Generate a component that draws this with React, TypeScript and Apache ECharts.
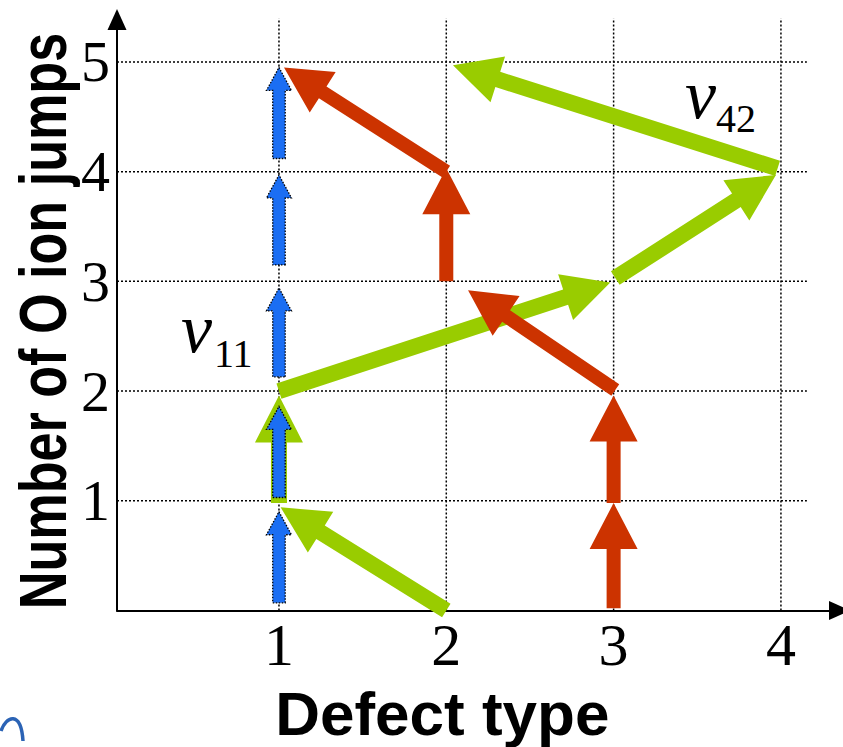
import React, { useEffect, useRef } from "react";
import * as echarts from "echarts";

// ---- data ----
const xTicks = [1, 2, 3, 4];
const yTicks = [1, 2, 3, 4, 5];
const xRange = [0.032, 4.35];
const yRange = [0, 5.387];
const gridLineTop = 5.43; // top end of vertical dotted lines
const gridLineRight = 4.155; // right end of horizontal dotted lines

// arrows: [x1, y1, x2, y2]
const blueArrows = [
  [1, 0.07, 1, 0.9],
  [1, 1.03, 1, 1.86],
  [1, 2.13, 1, 2.94],
  [1, 3.15, 1, 3.97],
  [1, 4.12, 1, 4.95],
];
const greenArrows = [
  [2, 0, 1.01, 0.94],
  [1, 0.98, 1, 1.96],
  [1, 2.0, 2.98, 2.99],
  [3.01, 3.03, 3.97, 3.97],
  [3.98, 4.03, 2.04, 4.97],
];
const redArrows = [
  [3, 0.02, 3, 0.98],
  [3, 0.98, 3, 1.96],
  [3.01, 2.01, 2.13, 2.92],
  [2, 3.0, 2, 4.03],
  [2, 4.0, 1.03, 4.95],
];

function arrowSeries(name: string, data: number[][], opts: any) {
  return {
    type: "custom",
    name,
    data,
    encode: { x: [0, 2], y: [1, 3] },
    silent: true,
    z: opts.z,
    renderItem: (params: any, api: any) => {
      const p1 = api.coord([api.value(0), api.value(1)]);
      const p2 = api.coord([api.value(2), api.value(3)]);
      const dx = p2[0] - p1[0];
      const dy = p2[1] - p1[1];
      const len = Math.hypot(dx, dy) || 1;
      const ux = dx / len, uy = dy / len;
      const nx = -uy, ny = ux;
      const L = opts.headLen, W = opts.headW / 2, S = opts.shaft / 2;
      const neck = [p2[0] - ux * L, p2[1] - uy * L];
      const pts = [
        [p1[0] + nx * S, p1[1] + ny * S],
        [neck[0] + nx * S, neck[1] + ny * S],
        [neck[0] + nx * W, neck[1] + ny * W],
        [p2[0], p2[1]],
        [neck[0] - nx * W, neck[1] - ny * W],
        [neck[0] - nx * S, neck[1] - ny * S],
        [p1[0] - nx * S, p1[1] - ny * S],
      ];
      return {
        type: "polygon",
        shape: { points: pts },
        style: opts.style,
      };
    },
  };
}

export default function App() {
  const ref = useRef<HTMLDivElement>(null);
  useEffect(() => {
    if (!ref.current) return;
    const chart = echarts.init(ref.current, null, { renderer: "svg" });

    const dotted = { color: "#000", width: 1.5, type: [2, 2] };
    const gridSeries: any[] = [];
    xTicks.forEach((v) => {
      gridSeries.push({
        type: "line",
        data: [
          [v, yRange[0]],
          [v, gridLineTop],
        ],
        symbol: "none",
        silent: true,
        lineStyle: dotted,
        z: 1,
      });
    });
    yTicks.forEach((v) => {
      gridSeries.push({
        type: "line",
        data: [
          [xRange[0], v],
          [gridLineRight, v],
        ],
        symbol: "none",
        silent: true,
        lineStyle: dotted,
        z: 1,
      });
    });

    chart.setOption({
      animation: false,
      backgroundColor: "#fff",
      grid: {
        left: 117,
        right: 3.5,
        top: 19.5,
        bottom: 136.5,
        containLabel: false,
        outerBoundsMode: "none",
      },
      xAxis: {
        type: "value",
        min: xRange[0],
        max: xRange[1],
        axisLine: {
          show: true,
          onZero: false,
          symbol: ["none", "triangle"],
          symbolSize: [19, 21],
          lineStyle: { color: "#000", width: 2 },
        },
        axisTick: { show: false },
        splitLine: { show: false },
        axisLabel: {
          customValues: xTicks,
          fontSize: 60,
          fontFamily: "Liberation Serif",
          color: "#000",
          margin: 4,
        },
        name: "Defect type",
        nameLocation: "middle",
        nameGap: 72,
        nameMoveOverlap: false,
        nameTextStyle: {
          fontSize: 62,
          fontWeight: "bold",
          fontFamily: "Liberation Sans",
          color: "#000",
          padding: [0, 72, 0, 0],
        },
      },
      yAxis: {
        type: "value",
        min: yRange[0],
        max: yRange[1],
        axisLine: {
          show: true,
          onZero: false,
          symbol: ["none", "triangle"],
          symbolSize: [19, 21],
          lineStyle: { color: "#000", width: 2 },
        },
        axisTick: { show: false },
        splitLine: { show: false },
        axisLabel: {
          customValues: yTicks,
          fontSize: 58,
          fontFamily: "Liberation Serif",
          color: "#000",
          margin: 7,
          padding: [14, 0, 0, 0],
        },
      },
      graphic: [
        {
          type: "text",
          x: 43,
          y: 321,
          rotation: Math.PI / 2,
          scaleX: 0.79,
          style: {
            text: "Number of O ion jumps",
            font: "bold 66px 'Liberation Sans'",
            fill: "#000",
            align: "center",
            verticalAlign: "middle",
          },
        },
        {
          type: "text",
          x: 181,
          y: 328,
          style: {
            text: "ν",
            font: "italic 70px 'Liberation Serif'",
            fill: "#000",
            align: "left",
            verticalAlign: "middle",
          },
        },
        {
          type: "text",
          x: 214,
          y: 353.5,
          style: {
            text: "11",
            font: "40px 'Liberation Serif'",
            fill: "#000",
            align: "left",
            verticalAlign: "middle",
          },
        },
        {
          type: "text",
          x: 685,
          y: 94,
          style: {
            text: "ν",
            font: "italic 70px 'Liberation Serif'",
            fill: "#000",
            align: "left",
            verticalAlign: "middle",
          },
        },
        {
          type: "text",
          x: 716,
          y: 118.5,
          style: {
            text: "42",
            font: "40px 'Liberation Serif'",
            fill: "#000",
            align: "left",
            verticalAlign: "middle",
          },
        },
        {
          type: "bezierCurve",
          shape: { x1: 1, y1: 731, cpx1: 6, cpy1: 716, cpx2: 21, cpy2: 710, x2: 23, y2: 741 },
          style: { stroke: "#2b63b5", lineWidth: 3.5, fill: null },
        },
      ],
      series: [
        ...gridSeries,
        arrowSeries("green", greenArrows, {
          z: 2,
          shaft: 16,
          headW: 48,
          headLen: 47,
          style: { fill: "#99cc00" },
        }),
        arrowSeries("red", redArrows, {
          z: 3,
          shaft: 14,
          headW: 48,
          headLen: 46,
          style: { fill: "#cc3300" },
        }),
        arrowSeries("blue", blueArrows, {
          z: 4,
          shaft: 12.5,
          headW: 25,
          headLen: 23,
          style: { fill: "#1b6ef3", stroke: "#000", lineWidth: 1.3, lineDash: [1.5, 1.5] },
        }),
      ],
    });
    return () => chart.dispose();
  }, []);
  return (
    <div
      ref={ref}
      style={{ position: "absolute", left: 0, top: 0, width: 843, height: 747 }}
    />
  );
}
